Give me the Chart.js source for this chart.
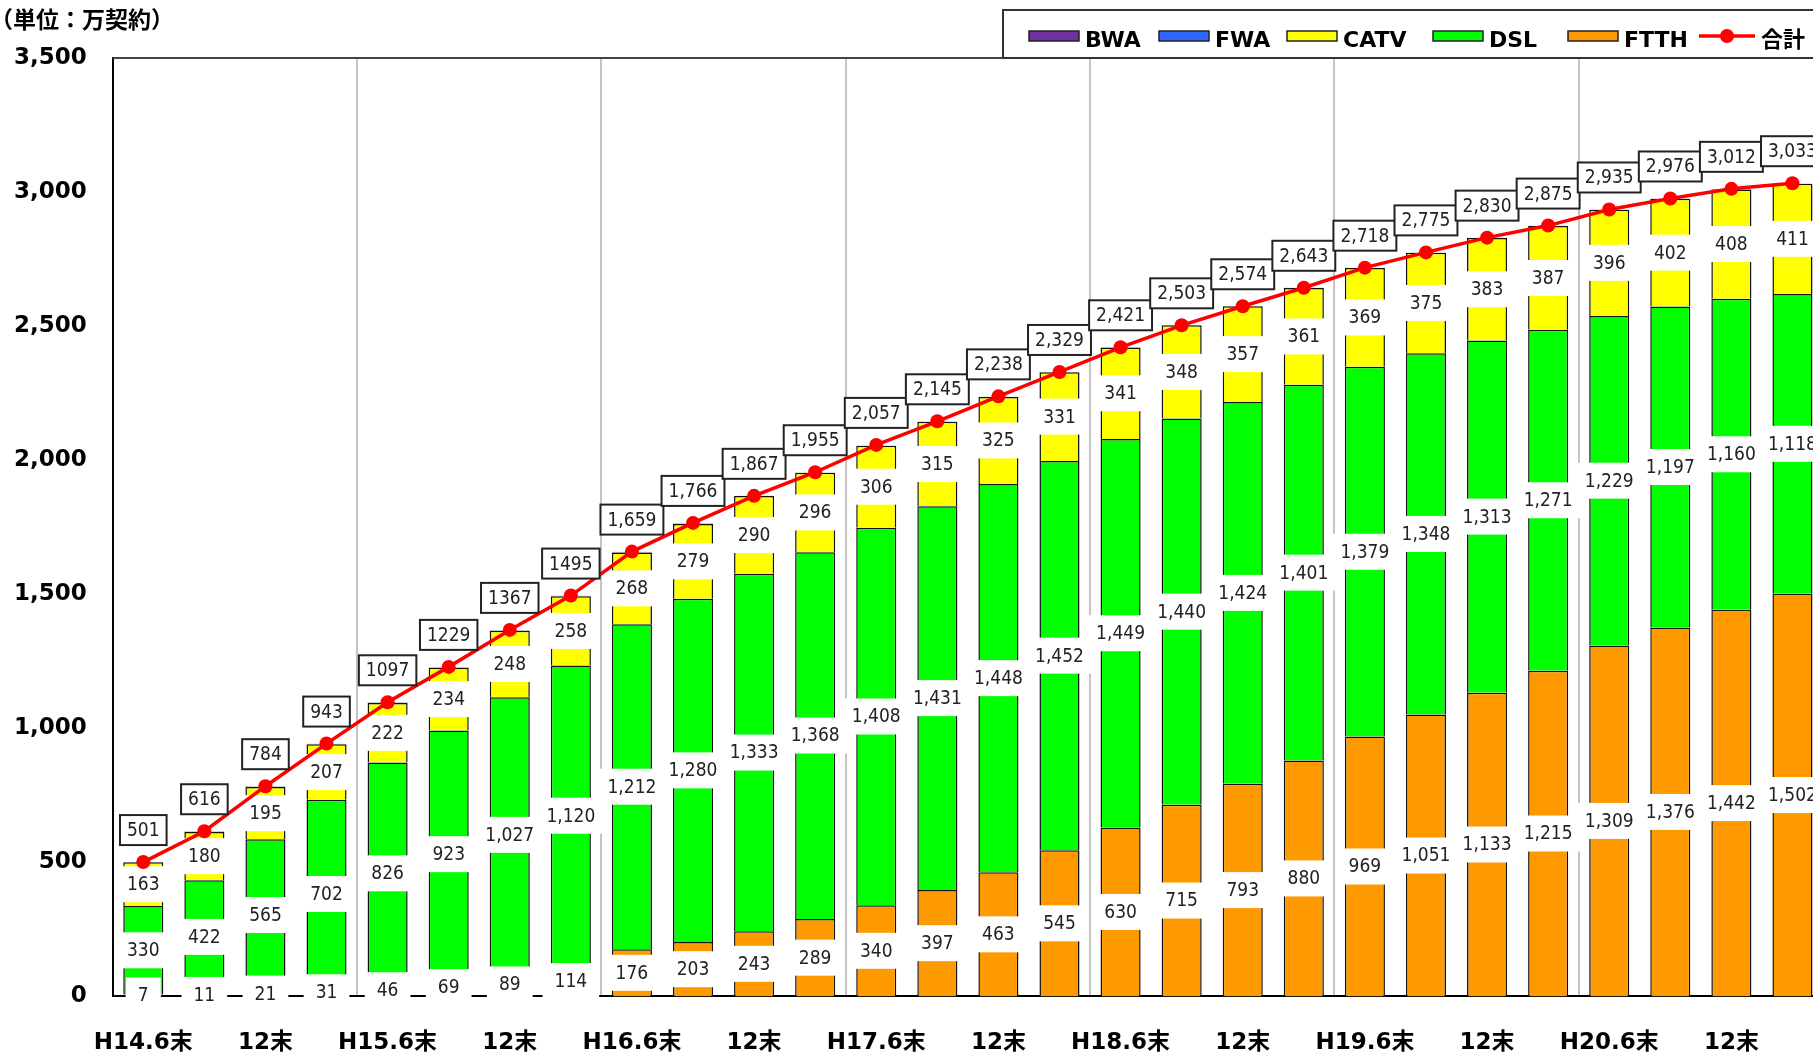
<!DOCTYPE html>
<html>
<head>
<meta charset="utf-8">
<script src="https://cdn.jsdelivr.net/npm/chart.js@4.4.1/dist/chart.umd.min.js"></script>
<style>
html, body { margin: 0; padding: 0; overflow: hidden; background: #fff; }
#myChart { position: absolute; left: 0; top: 0; }
</style>
</head>
<body>
<canvas id="myChart" width="1830" height="1056"></canvas>
<script>
// quarters from H14.6 to H21.3 (only every other label is shown on the axis)
var quarters = [
  'H14.6末', '9末', '12末', 'H15.3末',
  'H15.6末', '9末', '12末', 'H16.3末',
  'H16.6末', '9末', '12末', 'H17.3末',
  'H17.6末', '9末', '12末', 'H18.3末',
  'H18.6末', '9末', '12末', 'H19.3末',
  'H19.6末', '9末', '12末', 'H20.3末',
  'H20.6末', '9末', '12末', 'H21.3末'
];

var ftth = [7, 11, 21, 31, 46, 69, 89, 114, 176, 203, 243, 289, 340, 397,
  463, 545, 630, 715, 793, 880, 969, 1051, 1133, 1215, 1309, 1376, 1442, 1502];
var dsl = [330, 422, 565, 702, 826, 923, 1027, 1120, 1212, 1280, 1333, 1368, 1408, 1431,
  1448, 1452, 1449, 1440, 1424, 1401, 1379, 1348, 1313, 1271, 1229, 1197, 1160, 1118];
var catv = [163, 180, 195, 207, 222, 234, 248, 258, 268, 279, 290, 296, 306, 315,
  325, 331, 341, 348, 357, 361, 369, 375, 383, 387, 396, 402, 408, 411];
var fwa = [1, 2, 2, 2, 2, 2, 2, 2, 2, 2, 1, 1, 1, 1,
  1, 1, 1, 1, 1, 1, 1, 1, 1, 1, 1, 1, 1, 1];
var bwa = [0, 0, 0, 0, 0, 0, 0, 0, 0, 0, 0, 0, 0, 0,
  0, 0, 0, 0, 0, 0, 0, 0, 0, 0, 0, 0, 0, 0];
var totals = [501, 616, 784, 943, 1097, 1229, 1367, 1495, 1659, 1766, 1867, 1955, 2057, 2145,
  2238, 2329, 2421, 2503, 2574, 2643, 2718, 2775, 2830, 2875, 2935, 2976, 3012, 3033];
var totalLabels = ['501', '616', '784', '943', '1097', '1229', '1367', '1495', '1,659', '1,766',
  '1,867', '1,955', '2,057', '2,145', '2,238', '2,329', '2,421', '2,503', '2,574', '2,643',
  '2,718', '2,775', '2,830', '2,875', '2,935', '2,976', '3,012', '3,033'];
var yTicks = [0, 500, 1000, 1500, 2000, 2500, 3000, 3500];

var labelFont = '19px "DejaVu Sans Condensed", "DejaVu Sans", sans-serif';
var legendFont = 'bold 22px "DejaVu Sans", "Noto Sans CJK JP", sans-serif';
// left edge of each legend item: BWA, FWA, CATV, DSL, FTTH, 合計
var legendX = [1029, 1159, 1287, 1433, 1568, 1699];

var decoPlugin = {
  id: 'deco',
  beforeDatasetsDraw: function(chart) {
    var ctx = chart.ctx, a = chart.chartArea;
    ctx.save();
    ctx.strokeStyle = '#444';
    ctx.lineWidth = 2;
    ctx.beginPath();
    ctx.moveTo(a.left, a.top);
    ctx.lineTo(a.right, a.top);
    ctx.stroke();
    ctx.restore();
  },
  // value labels on the bar segments, drawn just before the total line
  beforeDatasetDraw: function(chart, args) {
    if (args.index !== 5) return;
    var ctx = chart.ctx;
    ctx.save();
    ctx.font = labelFont;
    ctx.textAlign = 'center';
    ctx.textBaseline = 'middle';
    [0, 1, 2].forEach(function(di) {
      var vals = chart.data.datasets[di].data;
      chart.getDatasetMeta(di).data.forEach(function(bar, i) {
        var txt = vals[i].toLocaleString('en-US');
        var cy = (bar.y + bar.base) / 2;
        var w = ctx.measureText(txt).width + 24;
        ctx.fillStyle = '#fff';
        ctx.fillRect(bar.x - w / 2, cy - 18, w, 36);
        ctx.fillStyle = '#222';
        ctx.fillText(txt, bar.x, cy + 1);
      });
    });
    ctx.restore();
  },
  afterDatasetsDraw: function(chart) {
    var ctx = chart.ctx;
    ctx.save();
    ctx.font = labelFont;
    ctx.textAlign = 'center';
    ctx.textBaseline = 'middle';
    chart.getDatasetMeta(5).data.forEach(function(pt, i) {
      var txt = totalLabels[i];
      var w = ctx.measureText(txt).width + 14;
      var cy = pt.y - 32;
      ctx.fillStyle = '#fff';
      ctx.fillRect(pt.x - w / 2, cy - 15, w, 30);
      ctx.strokeStyle = '#222';
      ctx.lineWidth = 2;
      ctx.strokeRect(pt.x - w / 2, cy - 15, w, 30);
      ctx.fillStyle = '#222';
      ctx.fillText(txt, pt.x, cy + 1);
    });
    ctx.restore();
  },
  afterDraw: function(chart) {
    var ctx = chart.ctx;
    ctx.save();
    // unit note
    ctx.fillStyle = '#000';
    ctx.font = 'bold 23px "Noto Sans CJK JP"';
    ctx.textBaseline = 'middle';
    ctx.fillText('（単位：万契約）', -10, 19);

    // legend box
    ctx.fillStyle = '#fff';
    ctx.fillRect(1003, 10, 830, 48);
    ctx.strokeStyle = '#333';
    ctx.lineWidth = 2;
    ctx.strokeRect(1003, 10, 830, 48);

    var ds = chart.data.datasets;
    var order = [4, 3, 2, 1, 0, 5];
    var y = 36;
    ctx.font = legendFont;
    order.forEach(function(di, k) {
      var d = ds[di];
      var x = legendX[k];
      if (d.type === 'line') {
        ctx.strokeStyle = d.borderColor;
        ctx.lineWidth = 3.5;
        ctx.beginPath();
        ctx.moveTo(x, y);
        ctx.lineTo(x + 56, y);
        ctx.stroke();
        ctx.fillStyle = d.pointBackgroundColor;
        ctx.beginPath();
        ctx.arc(x + 28, y, 7, 0, Math.PI * 2);
        ctx.fill();
        x += 62;
      } else {
        ctx.fillStyle = d.backgroundColor;
        ctx.fillRect(x, y - 5, 50, 10);
        ctx.strokeStyle = '#222';
        ctx.lineWidth = 1.5;
        ctx.strokeRect(x, y - 5, 50, 10);
        x += 56;
      }
      ctx.fillStyle = '#000';
      ctx.fillText(d.label, x, y + 5);
    });
    ctx.restore();
  }
};

function barSet(label, data, color) {
  return {
    type: 'bar',
    label: label,
    data: data,
    backgroundColor: color,
    borderColor: '#111',
    borderWidth: 1.5,
    stack: 'lines',
    order: 1,
    barPercentage: 0.656,
    categoryPercentage: 1.0
  };
}

var ctx = document.getElementById('myChart');
var myChart = new Chart(ctx, {
  data: {
    labels: quarters,
    datasets: [
      barSet('FTTH', ftth, '#ff9900'),
      barSet('DSL', dsl, '#00ff00'),
      barSet('CATV', catv, '#ffff00'),
      barSet('FWA', fwa, '#3366ff'),
      barSet('BWA', bwa, '#7030a0'),
      {
        type: 'line',
        label: '合計',
        data: totals,
        borderColor: '#ff0000',
        borderWidth: 3.5,
        pointRadius: 7,
        pointBackgroundColor: '#ff0000',
        pointBorderWidth: 0,
        stack: 'total',
        order: 0,
        tension: 0
      }
    ]
  },
  options: {
    responsive: false,
    animation: false,
    events: [],
    layout: { padding: { left: -12, right: 5, top: 58, bottom: -34 } },
    plugins: {
      legend: { display: false },
      tooltip: { enabled: false }
    },
    scales: {
      x: {
        stacked: true,
        offset: true,
        grid: {
          offset: true,
          drawTicks: false,
          lineWidth: 2,
          color: function(c) {
            return (c.index % 4 === 0 && c.index > 0) ? '#c4c4c4' : 'rgba(0,0,0,0)';
          }
        },
        border: { display: true, color: '#000', width: 2 },
        ticks: {
          autoSkip: false,
          maxRotation: 0,
          padding: 33,
          color: '#000',
          font: { family: '"DejaVu Sans", "Noto Sans CJK JP"', size: 23, weight: 'bold' },
          callback: function(v, i) { return i % 2 === 0 ? quarters[i] : ''; }
        }
      },
      y: {
        stacked: true,
        min: 0,
        max: 3500,
        afterBuildTicks: function(axis) {
          axis.ticks = yTicks.map(function(v) { return { value: v }; });
        },
        grid: { display: false, drawTicks: false },
        border: { display: true, color: '#000', width: 2 },
        ticks: {
          padding: 26,
          color: '#000',
          font: { family: '"DejaVu Sans"', size: 23, weight: 'bold' },
          callback: function(v) { return v.toLocaleString('en-US'); }
        }
      }
    }
  },
  plugins: [decoPlugin]
});
</script>
</body>
</html>
